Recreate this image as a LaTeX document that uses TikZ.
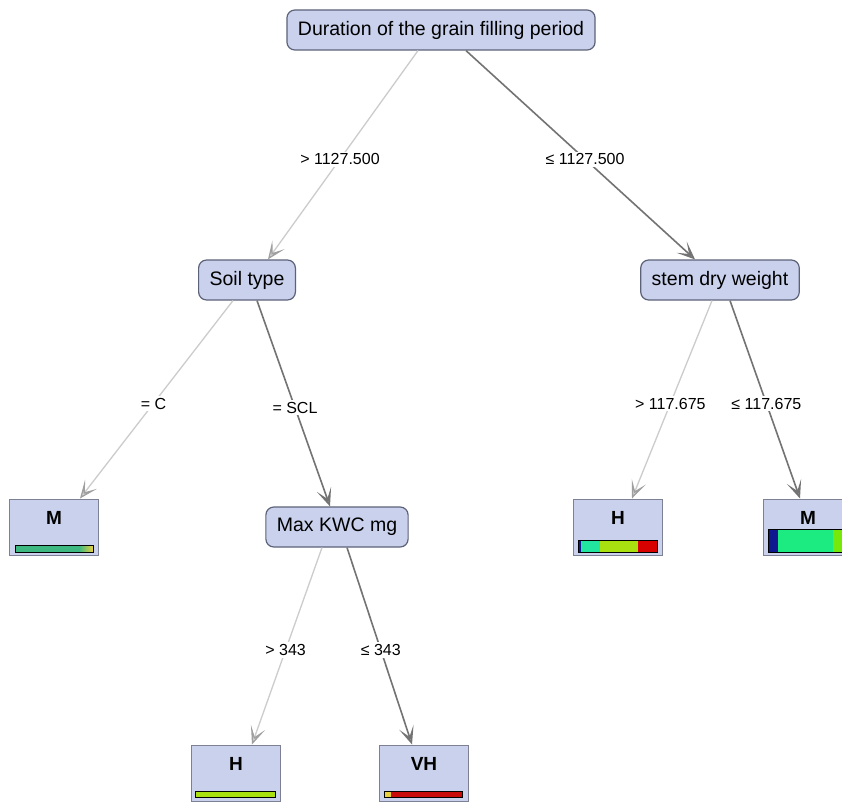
\documentclass[tikz,border=0pt]{standalone}
\usepackage{fontspec}
\setmainfont{Liberation Sans}
\usetikzlibrary{arrows.meta}
\definecolor{nodefill}{HTML}{C9D1EC}
\definecolor{nodeline}{HTML}{5C6278}
\definecolor{barnavy}{HTML}{101890}
\definecolor{barcyan}{HTML}{22E6A0}
\definecolor{barteal}{HTML}{3CB880}
\definecolor{barlime}{HTML}{A8E010}
\definecolor{barred}{HTML}{C80A0A}
\definecolor{baryellow}{HTML}{E8D040}

\begin{document}
\begin{tikzpicture}[x=1pt,y=-1pt,
  split/.style={draw=nodeline,fill=nodefill,rounded corners=8pt,line width=1.2pt,
    font=\fontsize{19.5}{23}\selectfont,minimum height=40pt,inner xsep=11pt},
  leaf/.style={draw=nodeline!80,fill=nodefill,line width=1pt,minimum width=89pt,
    minimum height=56pt,font=\bfseries\fontsize{19}{22}\selectfont,text height=13pt,text depth=18pt},
  elabel/.style={fill=white,inner sep=2pt,font=\fontsize{16}{19}\selectfont,pos=.52},
  lightedge/.style={draw=gray!40,line width=1.3pt,
    -{Stealth[length=18pt,width=15pt,inset=10pt,color=gray!75,fill=gray!30]}},
  darkedge/.style={draw=gray!90!black,line width=1.6pt,
    -{Stealth[length=18pt,width=15pt,inset=10pt,color=gray!90!black,fill=gray!60]}},
  bar/.style={draw=black,line width=.8pt}]
\clip (0,0) rectangle (842,805);
\fill[white] (0,0) rectangle (842,805);

\node[split] (root) at (441,30) {Duration of the grain filling period};
\node[split] (soil) at (247,280) {Soil type};
\node[split] (stem) at (720,280) {stem dry weight};
\node[split] (kwc) at (337,527) {Max KWC mg};
\node[leaf] (mleft) at (54,527) {M};
\node[leaf] (hstem) at (618,527) {H};
\node[leaf] (mright) at (808,527) {M};
\node[leaf] (hbot) at (236,773) {H};
\node[leaf] (vh) at (424,773) {VH};

% Splits
\draw[lightedge] ([xshift=-23pt]root.south) -- node[elabel]{> 1127.500} ([xshift=21pt]soil.north);
\draw[darkedge] ([xshift=25pt]root.south) -- node[elabel]{≤ 1127.500} ([xshift=-25pt]stem.north);
\draw[lightedge] ([xshift=-14pt]soil.south) -- node[elabel]{= C} ([xshift=26pt]mleft.north);
\draw[darkedge] ([xshift=10pt]soil.south) -- node[elabel]{= SCL} ([xshift=-7pt]kwc.north);
\draw[lightedge] ([xshift=-8pt]stem.south) -- node[elabel]{> 117.675} ([xshift=14pt]hstem.north);
\draw[darkedge] ([xshift=10pt]stem.south) -- node[elabel]{≤ 117.675} ([xshift=-8pt]mright.north);
\draw[lightedge] ([xshift=-15pt]kwc.south) -- node[elabel]{> 343} ([xshift=16pt]hbot.north);
\draw[darkedge] ([xshift=10pt]kwc.south) -- node[elabel]{≤ 343} ([xshift=-12pt]vh.north);

% Class bars
\begin{scope}[shift={(mleft.south west)}]
\fill[barteal] (6,-10) rectangle (70,-3);
\shade[left color=barteal,right color=baryellow] (70,-10) rectangle (84,-3);
\draw[bar] (6,-10) rectangle (84,-3);
\end{scope}
\begin{scope}[shift={(hstem.south west)}]
\fill[barnavy] (5,-15) rectangle (8,-3);
\fill[barcyan] (8,-15) rectangle (27,-3);
\fill[barlime] (27,-15) rectangle (65,-3);
\fill[red!85!black] (65,-15) rectangle (84,-3);
\draw[bar] (5,-15) rectangle (84,-3);
\end{scope}
\begin{scope}[shift={(mright.south west)}]
\fill[barnavy] (5,-26) rectangle (15,-3);
\fill[barcyan!80!green] (15,-26) rectangle (70,-3);
\fill[barlime!70!green] (70,-26) rectangle (85,-3);
\draw[bar] (5,-26) rectangle (85,-3);
\end{scope}
\begin{scope}[shift={(hbot.south west)}]
\fill[barlime] (4,-10) rectangle (84,-4);
\draw[bar] (4,-10) rectangle (84,-4);
\end{scope}
\begin{scope}[shift={(vh.south west)}]
\fill[baryellow] (5,-10) rectangle (12,-4);
\fill[barred] (12,-10) rectangle (83,-4);
\draw[bar] (5,-10) rectangle (83,-4);
\end{scope}
\end{tikzpicture}
\end{document}
